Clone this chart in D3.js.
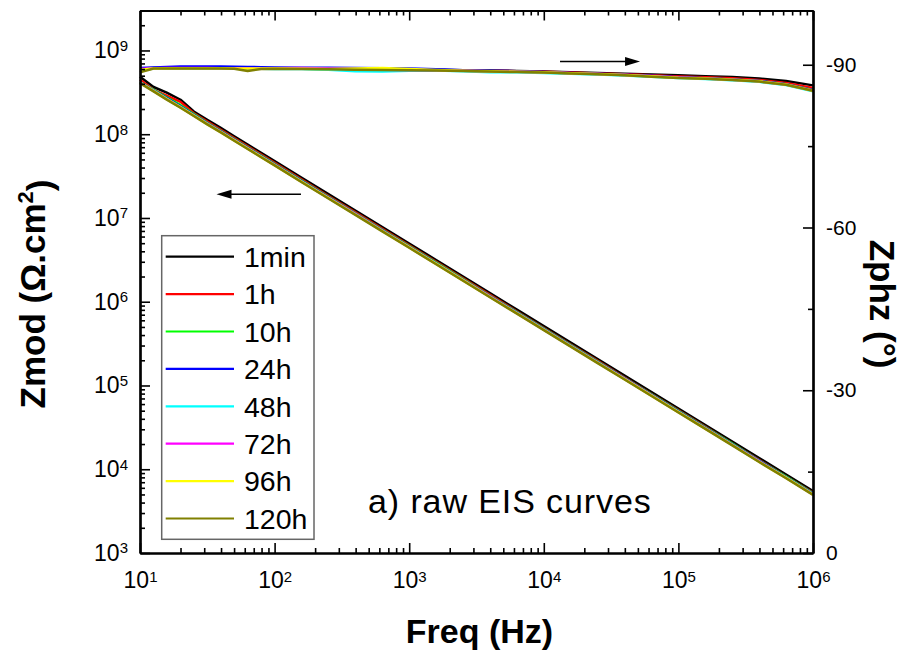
<!DOCTYPE html>
<html><head><meta charset="utf-8">
<script src="https://cdn.jsdelivr.net/npm/d3@7"></script>
<style>
html,body{margin:0;padding:0;background:#fff;}
svg{display:block;font-family:"Liberation Sans", Arial, sans-serif;}
</style></head><body>
<svg id="chart" width="913" height="657"></svg>
<script>
// ---------------- DATA ----------------
const freq = [10, 12.6, 15.8, 20, 25.1, 31.6, 39.8, 50.1, 63.1, 79.4, 100, 158, 251, 398, 631,
  1000, 1585, 2512, 3981, 6310, 1e4, 1.585e4, 2.512e4, 3.981e4, 6.31e4, 1e5, 1.585e5, 2.512e5, 3.981e5, 6.31e5, 1e6];

const seriesNames = ["1min", "1h", "10h", "24h", "48h", "72h", "96h", "120h"];

// |Z| (Ohm.cm2)
const zmod1min = [4.85e8,3.66e8,3.13e8,2.58e8,1.87e8,1.49e8,1.19e8,9.44e7,7.53e7,6.00e7,4.79e7,3.04e7,1.93e7,1.23e7,7.80e6,4.95e6,3.15e6,2.00e6,1.27e6,8.05e5,5.12e5,3.25e5,2.07e5,1.31e5,8.34e4,5.30e4,3.37e4,2.14e4,1.36e4,8.63e3,5.50e3];
const zmod1h   = [4.47e8,3.39e8,2.88e8,2.43e8,1.78e8,1.42e8,1.13e8,8.97e7,7.15e7,5.70e7,4.55e7,2.89e7,1.83e7,1.17e7,7.41e6,4.70e6,2.99e6,1.90e6,1.21e6,7.65e5,4.86e5,3.09e5,1.97e5,1.24e5,7.92e4,5.04e4,3.20e4,2.03e4,1.29e4,8.20e3,5.23e3];
const zmod10h  = [4.20e8,3.38e8,2.75e8,2.22e8,1.74e8,1.37e8,1.10e8,8.74e7,6.97e7,5.55e7,4.43e7,2.81e7,1.79e7,1.14e7,7.24e6,4.61e6,2.93e6,1.86e6,1.18e6,7.53e5,4.79e5,3.04e5,1.93e5,1.23e5,7.84e4,4.97e4,3.17e4,2.02e4,1.27e4,8.15e3,5.17e3];
const zmod24h  = [4.15e8,3.33e8,2.70e8,2.15e8,1.70e8,1.35e8,1.08e8,8.61e7,6.87e7,5.47e7,4.37e7,2.77e7,1.76e7,1.12e7,7.14e6,4.54e6,2.88e6,1.83e6,1.16e6,7.43e5,4.72e5,3.00e5,1.91e5,1.22e5,7.73e4,4.90e4,3.12e4,1.99e4,1.26e4,8.03e3,5.10e3];
const zmod48h  = [4.15e8,3.31e8,2.64e8,2.11e8,1.68e8,1.34e8,1.07e8,8.53e7,6.80e7,5.42e7,4.32e7,2.74e7,1.74e7,1.11e7,7.07e6,4.50e6,2.86e6,1.82e6,1.15e6,7.35e5,4.67e5,2.97e5,1.89e5,1.20e5,7.65e4,4.86e4,3.09e4,1.97e4,1.24e4,7.96e3,5.05e3];
const zmod72h  = [4.13e8,3.30e8,2.63e8,2.10e8,1.67e8,1.33e8,1.07e8,8.49e7,6.77e7,5.39e7,4.30e7,2.73e7,1.74e7,1.11e7,7.03e6,4.48e6,2.84e6,1.81e6,1.15e6,7.32e5,4.65e5,2.95e5,1.88e5,1.20e5,7.61e4,4.83e4,3.08e4,1.96e4,1.24e4,7.92e3,5.02e3];
const zmod96h  = [4.11e8,3.28e8,2.62e8,2.09e8,1.67e8,1.32e8,1.06e8,8.44e7,6.74e7,5.36e7,4.28e7,2.72e7,1.73e7,1.10e7,7.00e6,4.45e6,2.83e6,1.80e6,1.14e6,7.28e5,4.63e5,2.94e5,1.87e5,1.19e5,7.58e4,4.81e4,3.06e4,1.95e4,1.23e4,7.88e3,5.00e3];
const zmod120h = [4.07e8,3.25e8,2.59e8,2.07e8,1.65e8,1.31e8,1.05e8,8.36e7,6.67e7,5.31e7,4.24e7,2.69e7,1.71e7,1.09e7,6.93e6,4.41e6,2.80e6,1.78e6,1.13e6,7.21e5,4.58e5,2.91e5,1.85e5,1.18e5,7.50e4,4.76e4,3.03e4,1.93e4,1.22e4,7.80e3,4.95e3];

// phase (degrees)
const phz1min = [-89.3,-89.4,-89.4,-89.4,-89.4,-89.4,-89.4,-89.4,-89.4,-89.4,-89.3,-89.3,-89.3,-89.2,-89.2,-89.1,-89.1,-89.0,-88.95,-88.85,-88.75,-88.6,-88.5,-88.35,-88.2,-88.05,-87.9,-87.75,-87.45,-87.0,-86.2];
const phz1h   = [-89.2,-89.35,-89.4,-89.4,-89.4,-89.4,-89.4,-89.4,-89.4,-89.35,-89.3,-89.3,-89.25,-89.2,-89.15,-89.1,-89.05,-88.95,-88.9,-88.8,-88.7,-88.55,-88.4,-88.25,-88.05,-87.85,-87.7,-87.5,-87.2,-86.65,-85.7];
const phz10h  = [-89.0,-89.3,-89.4,-89.4,-89.4,-89.4,-89.4,-89.35,-89.35,-89.3,-89.3,-89.25,-89.2,-89.15,-89.1,-89.05,-89.0,-88.9,-88.85,-88.75,-88.6,-88.45,-88.3,-88.1,-87.9,-87.65,-87.5,-87.3,-87.0,-86.4,-85.35];
const phz24h  = [-89.4,-89.5,-89.6,-89.7,-89.7,-89.7,-89.7,-89.65,-89.6,-89.55,-89.5,-89.45,-89.45,-89.4,-89.35,-89.3,-89.15,-89.0,-88.9,-88.8,-88.65,-88.5,-88.35,-88.15,-87.95,-87.7,-87.5,-87.3,-87.0,-86.4,-85.3];
const phz48h  = [-89.1,-89.3,-89.35,-89.35,-89.3,-89.3,-89.3,-89.3,-89.3,-89.25,-89.2,-89.2,-89.1,-88.8,-88.75,-88.9,-88.95,-88.8,-88.6,-88.6,-88.5,-88.35,-88.2,-88.0,-87.8,-87.55,-87.35,-87.15,-86.85,-86.25,-85.1];
const phz72h  = [-89.2,-89.35,-89.4,-89.4,-89.4,-89.4,-89.35,-89.35,-89.35,-89.3,-89.35,-89.4,-89.3,-89.2,-89.1,-89.05,-89.0,-88.9,-88.8,-88.7,-88.6,-88.45,-88.3,-88.1,-87.9,-87.65,-87.45,-87.25,-86.95,-86.35,-85.25];
const phz96h  = [-89.1,-89.3,-89.35,-89.35,-89.35,-89.35,-89.35,-89.3,-89.3,-89.3,-89.3,-89.25,-89.2,-89.3,-89.4,-89.2,-89.05,-88.9,-88.8,-88.7,-88.6,-88.45,-88.3,-88.1,-87.9,-87.6,-87.45,-87.25,-86.95,-86.35,-85.2];
const phz120h = [-88.6,-89.3,-89.3,-89.3,-89.3,-89.3,-89.3,-89.25,-88.85,-89.2,-89.25,-89.2,-89.15,-89.1,-89.05,-89.0,-88.95,-88.85,-88.75,-88.65,-88.55,-88.4,-88.25,-88.05,-87.8,-87.55,-87.4,-87.2,-86.9,-86.3,-85.2];

// ticks
const xTickValues = [1e1, 1e2, 1e3, 1e4, 1e5, 1e6];
const yTickValues = [1e3, 1e4, 1e5, 1e6, 1e7, 1e8, 1e9];
const phzTickValues = [0, -30, -60, -90];
const phzMinorTicks = [-15, -45, -75];
const phzTickLabels = ["0", "-30", "-60", "-90"];

// annotation arrows: [f_start, f_end, value]
const arrowZ = [157, 37, 1.92e7];
const arrowP = [1.32e4, 5.19e4, -90.6];

// ---------------- STYLE ----------------
const colors = ["#000000", "#ff0000", "#00ff00", "#0000ff", "#00ffff", "#ff00ff", "#ffff00", "#808000"];
const zmodSeries = [zmod1min, zmod1h, zmod10h, zmod24h, zmod48h, zmod72h, zmod96h, zmod120h];
const phzSeries = [phz1min, phz1h, phz10h, phz24h, phz48h, phz72h, phz96h, phz120h];

const svg = d3.select("#chart");
const m = {left: 140, right: 813, top: 10.5, bottom: 553};
const FONT = '"Liberation Sans", Arial, sans-serif';

const x = d3.scaleLog().domain([10, 1e6]).range([m.left, m.right]);
const y = d3.scaleLog().domain([1e3, 3e9]).range([m.bottom, m.top]);
const yp = d3.scaleLinear().domain([0, -100]).range([m.bottom, m.top]);

const xMinor = x.ticks().filter(v => !xTickValues.includes(v));
const yMinor = y.ticks().filter(v => !yTickValues.some(t => Math.abs(t - v) / t < 1e-9));

// curves
const lineZ = d3.line().x((d, i) => x(freq[i])).y(d => y(d));
const lineP = d3.line().x((d, i) => x(freq[i])).y(d => yp(d));
const curves = svg.append("g");
zmodSeries.forEach((s, k) => {
  curves.append("path").attr("d", lineZ(s)).attr("fill", "none")
    .attr("stroke", colors[k]).attr("stroke-width", 2.5).attr("stroke-linejoin", "round");
});
phzSeries.forEach((s, k) => {
  curves.append("path").attr("d", lineP(s)).attr("fill", "none")
    .attr("stroke", colors[k]).attr("stroke-width", 2.5).attr("stroke-linejoin", "round");
});

function styleAxis(g) {
  g.attr("font-family", FONT);
  g.select(".domain").attr("stroke", "#000").attr("stroke-width", 2.2);
  g.selectAll(".tick line").attr("stroke", "#000").attr("stroke-width", 1.6);
}
function pow10Label(g, supDy) {
  g.selectAll(".tick text").each(function(d) {
    const t = d3.select(this);
    t.text(null);
    t.append("tspan").text("10");
    t.append("tspan").attr("dy", supDy).attr("font-size", 15).text(Math.round(Math.log10(d)));
  });
}

// bottom axis
svg.append("g").attr("transform", `translate(0,${m.bottom})`)
  .call(d3.axisBottom(x).tickValues(xMinor).tickSize(-5).tickSizeOuter(0).tickFormat(""))
  .call(styleAxis);
svg.append("g").attr("transform", `translate(0,${m.bottom})`)
  .call(d3.axisBottom(x).tickValues(xTickValues).tickSize(-10).tickSizeOuter(0).tickPadding(19))
  .call(styleAxis).attr("font-size", 23).call(g => pow10Label(g, "-0.45em"))
  .call(g => g.selectAll(".tick text").attr("fill", "#000"));
// top axis
svg.append("g").attr("transform", `translate(0,${m.top})`)
  .call(d3.axisTop(x).tickValues(xMinor).tickSize(-5).tickSizeOuter(0).tickFormat(""))
  .call(styleAxis);
svg.append("g").attr("transform", `translate(0,${m.top})`)
  .call(d3.axisTop(x).tickValues(xTickValues).tickSize(-10).tickSizeOuter(0).tickFormat(""))
  .call(styleAxis);
// left axis
svg.append("g").attr("transform", `translate(${m.left},0)`)
  .call(d3.axisLeft(y).tickValues(yMinor).tickSize(-5).tickSizeOuter(0).tickFormat(""))
  .call(styleAxis);
svg.append("g").attr("transform", `translate(${m.left},0)`)
  .call(d3.axisLeft(y).tickValues(yTickValues).tickSize(-10).tickSizeOuter(0).tickPadding(12))
  .call(styleAxis).attr("font-size", 23).call(g => pow10Label(g, "-0.5em"))
  .call(g => g.selectAll(".tick text").attr("fill", "#000"));
// right axis
svg.append("g").attr("transform", `translate(${m.right},0)`)
  .call(d3.axisRight(yp).tickValues(phzMinorTicks).tickSize(-5).tickSizeOuter(0).tickFormat(""))
  .call(styleAxis);
svg.append("g").attr("transform", `translate(${m.right},0)`)
  .call(d3.axisRight(yp).tickValues(phzTickValues).tickSize(-10).tickSizeOuter(0).tickPadding(13)
    .tickFormat((d, i) => phzTickLabels[i]))
  .call(styleAxis).attr("font-size", 21)
  .call(g => g.selectAll(".tick text").attr("fill", "#000"));

// axis titles
svg.append("text").attr("x", (m.left + m.right) / 2 + 3).attr("y", 643)
  .attr("text-anchor", "middle").attr("font-family", FONT).attr("font-weight", "bold")
  .attr("font-size", 34).text("Freq (Hz)");
const zt = svg.append("text").attr("transform", "translate(45,294) rotate(-90)")
  .attr("text-anchor", "middle").attr("font-family", FONT).attr("font-weight", "bold").attr("font-size", 35);
zt.append("tspan").text("Zmod (Ω.cm");
zt.append("tspan").attr("dy", "-0.55em").attr("font-size", 22).text("2");
zt.append("tspan").attr("dy", "0.55em").text(")");
svg.append("text").attr("transform", "translate(870,304) rotate(90)")
  .attr("text-anchor", "middle").attr("font-family", FONT).attr("font-weight", "bold")
  .attr("font-size", 35).text("Zphz (°)");

// annotation text
svg.append("text").attr("x", 368).attr("y", 513).attr("font-family", FONT)
  .attr("font-size", 34).attr("letter-spacing", 0.9).text("a) raw EIS curves");

// arrows
function arrow(x1, x2, yy) {
  const dir = Math.sign(x2 - x1);
  const headLen = 15, half = 4.5;
  svg.append("line").attr("x1", x1).attr("x2", x2 - dir * headLen + dir).attr("y1", yy).attr("y2", yy)
    .attr("stroke", "#000").attr("stroke-width", 1.4);
  svg.append("path").attr("d", `M${x2},${yy} L${x2 - dir * headLen},${yy - half} L${x2 - dir * headLen},${yy + half} Z`)
    .attr("fill", "#000");
}
arrow(x(arrowZ[0]), x(arrowZ[1]), y(arrowZ[2]));
arrow(x(arrowP[0]), x(arrowP[1]), yp(arrowP[2]));

// legend
const lg = svg.append("g");
lg.append("rect").attr("x", 161.7).attr("y", 235.7).attr("width", 152.3).attr("height", 303.6)
  .attr("fill", "#fff").attr("stroke", "#666").attr("stroke-width", 1.5);
seriesNames.forEach((n, i) => {
  const yy = 256.7 + i * 37.4;
  lg.append("line").attr("x1", 165.7).attr("x2", 234).attr("y1", yy).attr("y2", yy)
    .attr("stroke", colors[i]).attr("stroke-width", 2.2);
  lg.append("text").attr("x", 244).attr("y", yy).attr("dy", "0.36em").attr("font-family", FONT)
    .attr("font-size", 28.5).text(n);
});
</script>
</body></html>
